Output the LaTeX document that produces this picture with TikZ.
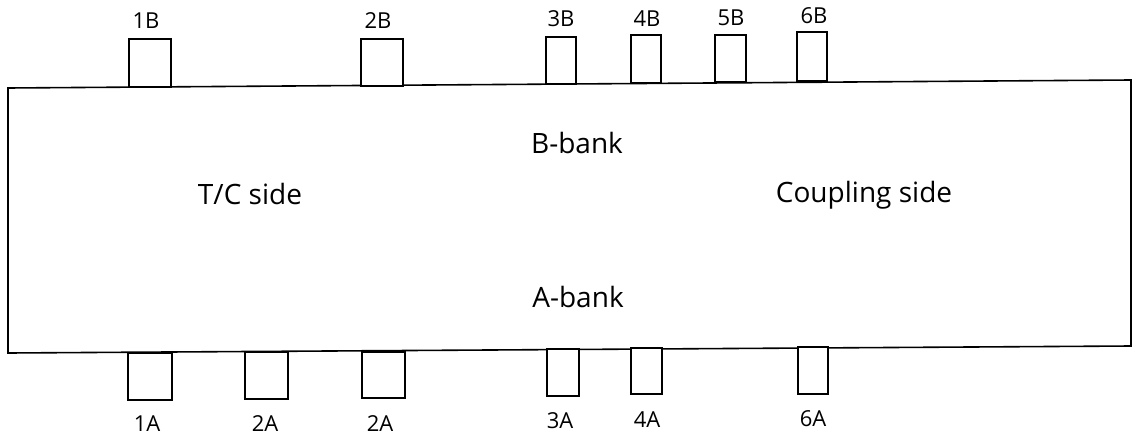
\documentclass[tikz,border=0pt]{standalone}
\usepackage{fontspec}
\setmainfont{Open Sans}
\begin{document}
\begin{tikzpicture}[x=1pt,y=-1pt,
  block/.style={draw=black,line width=1.6pt},
  port/.style={draw=black,line width=1.3pt,fill=white},
  portlabel/.style={anchor=base,inner sep=0pt,font=\fontsize{22}{22}\selectfont},
  sidelabel/.style={anchor=base,inner sep=0pt,font=\fontsize{28}{28}\selectfont}]
\useasboundingbox (0,0) rectangle (1139,436);
% engine block outline
\draw[block] (8,88) -- (1131,80) -- (1131,346) -- (8,353) -- cycle;
% B-bank cylinders (top)
\draw[port] (129,39) rectangle (171,87);
\draw[port] (361,39) rectangle (403,86);
\draw[port] (546,37) rectangle (576,84);
\draw[port] (631,35) rectangle (661,83);
\draw[port] (715,35) rectangle (746,82);
\draw[port] (797,32) rectangle (827,81);
\node[portlabel] (l1b) at (146,29) {1B};
\node[portlabel] (l2b) at (378,29) {2B};
\node[portlabel] (l3b) at (561,27) {3B};
\node[portlabel] (l4b) at (647,27) {4B};
\node[portlabel] (l5b) at (731,26) {5B};
\node[portlabel] (l6b) at (814,24) {6B};
% A-bank cylinders (bottom)
\draw[port] (128,353) rectangle (172,400);
\draw[port] (245,352) rectangle (288,399);
\draw[port] (362,352) rectangle (405,398);
\draw[port] (547,349) rectangle (579,396);
\draw[port] (631,348) rectangle (662,394);
\draw[port] (798,347) rectangle (828,394);
\node[portlabel] (l1a) at (147,431) {1A};
\node[portlabel] (l2a) at (265,431) {2A};
\node[portlabel] (l2a2) at (380,431) {2A};
\node[portlabel] (l3a) at (560,428) {3A};
\node[portlabel] (l4a) at (647,427) {4A};
\node[portlabel] (l6a) at (813,426) {6A};
% text inside the block
\node[sidelabel] (bbank) at (577,153) {B-bank};
\node[sidelabel] (tc) at (250,204) {T/C side};
\node[sidelabel] (coup) at (864,202) {Coupling side};
\node[sidelabel] (abank) at (578,307) {A-bank};
\end{tikzpicture}
\end{document}
